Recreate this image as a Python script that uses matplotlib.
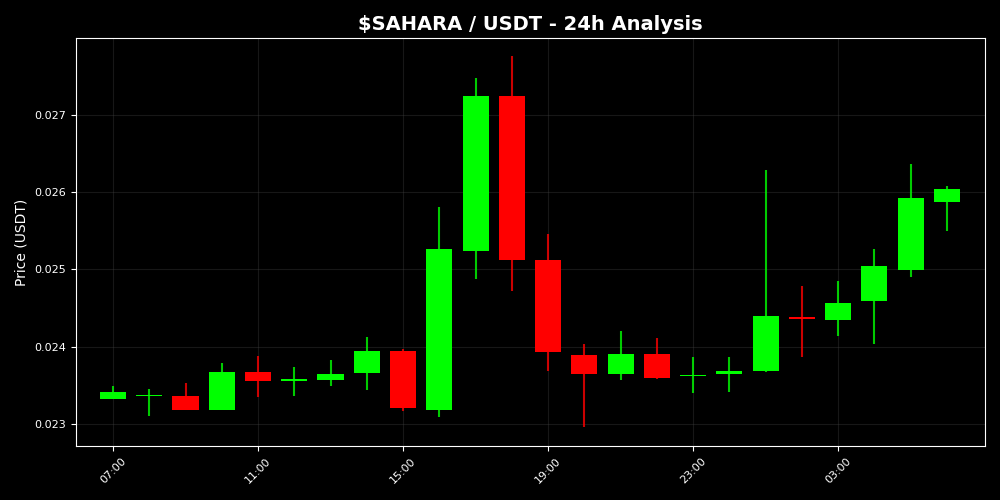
import matplotlib
matplotlib.use("Agg")
import matplotlib.pyplot as plt

hours = ["07:00", "08:00", "09:00", "10:00", "11:00", "12:00", "13:00", "14:00",
         "15:00", "16:00", "17:00", "18:00", "19:00", "20:00", "21:00", "22:00",
         "23:00", "00:00", "01:00", "02:00", "03:00", "04:00", "05:00", "06:00"]
opens = [0.023328, 0.023370, 0.023367, 0.023177, 0.023677, 0.023552, 0.023574, 0.023656,
         0.023949, 0.023186, 0.025244, 0.027250, 0.025127, 0.023898, 0.023643, 0.023910,
         0.023630, 0.023647, 0.023682, 0.024385, 0.024340, 0.024588, 0.024989, 0.025878]
closes = [0.023410, 0.023378, 0.023177, 0.023677, 0.023552, 0.023587, 0.023652, 0.023949,
          0.023211, 0.025270, 0.027250, 0.025127, 0.023928, 0.023643, 0.023910, 0.023591,
          0.023636, 0.023690, 0.024394, 0.024359, 0.024571, 0.025050, 0.025930, 0.026046]
highs = [0.023496, 0.023457, 0.023535, 0.023794, 0.023885, 0.023742, 0.023833, 0.024131,
         0.023975, 0.025813, 0.027479, 0.027768, 0.025464, 0.024040, 0.024208, 0.024118,
         0.023872, 0.023872, 0.026292, 0.024791, 0.024855, 0.025270, 0.026370, 0.026085]
lows = [0.023328, 0.023099, 0.023177, 0.023177, 0.023345, 0.023358, 0.023496, 0.023444,
        0.023164, 0.023086, 0.024873, 0.024717, 0.023682, 0.022957, 0.023565, 0.023583,
        0.023397, 0.023410, 0.023669, 0.023863, 0.024135, 0.024031, 0.024899, 0.025494]
tick_labels = ["07:00", "11:00", "15:00", "19:00", "23:00", "03:00"]

UP = "#00ff00"
DOWN = "#ff0000"

fig = plt.figure(figsize=(10, 5), dpi=100, facecolor="black")
ax = fig.add_axes([0.076, 0.108, 0.909, 0.816])
ax.set_facecolor("black")

x = list(range(len(hours)))
width = 0.72
for i in x:
    o, c, h, l = opens[i], closes[i], highs[i], lows[i]
    col = UP if c >= o else DOWN
    ax.vlines(i, l, h, color=col, linewidth=1.5, alpha=0.8, zorder=2)
    bottom = min(o, c)
    height = abs(c - o)
    if height < 0.000012:
        height = 0.000012
        bottom = (o + c) / 2 - height / 2
    ax.bar(i, height, width=width, bottom=bottom, color=col, zorder=3)

ax.set_xlim(-1.02, 24.05)
ax.set_ylim(0.022715, 0.027997)
ax.set_yticks([0.023, 0.024, 0.025, 0.026, 0.027])
ax.set_yticklabels(["0.023", "0.024", "0.025", "0.026", "0.027"])
ax.set_xticks([hours.index(t) for t in tick_labels])
ax.set_xticklabels(tick_labels, rotation=45, ha="center")

ax.grid(True, color="#444444", alpha=0.35, linewidth=0.8)
ax.set_axisbelow(True)
ax.tick_params(colors="white", labelsize=8)
for s in ax.spines.values():
    s.set_color("white")
ax.set_ylabel("Price (USDT)", color="white", fontsize=10)
ax.set_title("$SAHARA / USDT - 24h Analysis", color="white", fontsize=14, fontweight="bold")

fig.savefig("out.png", dpi=100, facecolor="black")
